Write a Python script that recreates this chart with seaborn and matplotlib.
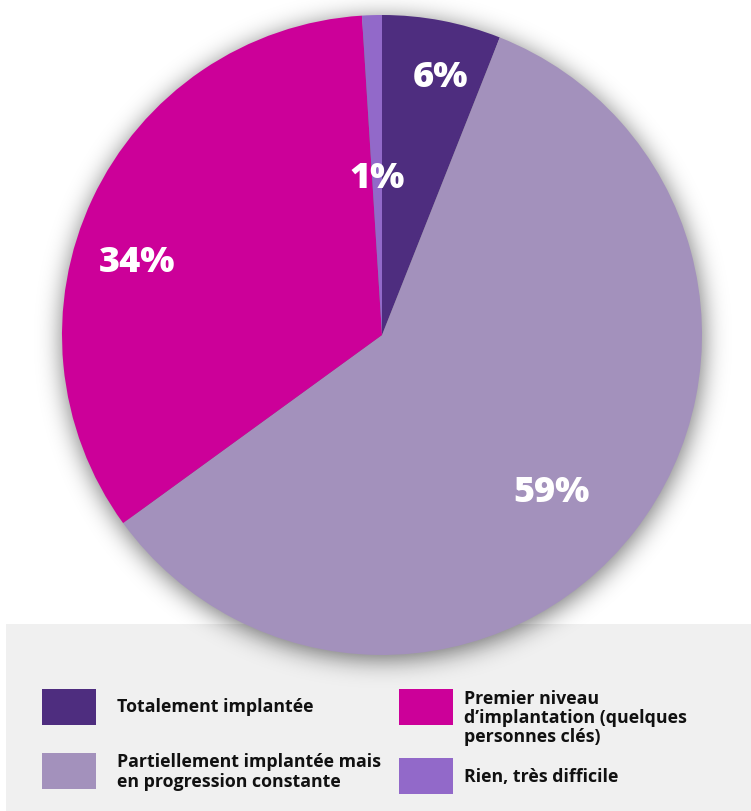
import math
import numpy as np
import matplotlib
matplotlib.use("Agg")
import matplotlib.pyplot as plt
from matplotlib.patches import Rectangle
import seaborn as sns

# Survey shares (percent)
categories = [
    "Totalement implantée",
    "Partiellement implantée mais\nen progression constante",
    "Premier niveau\nd’implantation (quelques\npersonnes clés)",
    "Rien, très difficile",
]
shares = [6, 59, 34, 1]
colors = ["#4e2d7f", "#a391bc", "#cc0099", "#9269c9"]

sns.set_theme(style="white")
plt.rcParams["font.family"] = ["Open Sans", "DejaVu Sans"]

W, H = 751, 812
fig = plt.figure(figsize=(W / 100, H / 100), dpi=100)
fig.patch.set_facecolor("white")
ax = fig.add_axes([0, 0, 1, 1])
ax.set_axis_off()

cx, cy, R = 382, H - 336, 320

# Grey legend panel at the bottom
ax.add_patch(Rectangle((6, 0), W - 6, H - 625, facecolor="#f0f0f0",
                       edgecolor="none", zorder=0))

# Soft drop shadow under the pie
xs = np.arange(W) + 0.5
ys = np.arange(H) + 0.5
XX, YY = np.meshgrid(xs, ys)
dist = np.hypot(XX - (cx + 1), YY - (cy - 4)) - R
sigma = 12.0
erfc = np.frompyfunc(lambda v: math.erfc(v), 1, 1)
shade = 0.5 * erfc(dist / (sigma * math.sqrt(2))).astype(float)
rgba = np.zeros((H, W, 4))
rgba[..., 3] = 0.55 * shade
ax.imshow(rgba, extent=(0, W, 0, H), origin="lower", zorder=1,
          interpolation="bilinear")

wedges, _ = ax.pie(
    shares, colors=colors, startangle=90, counterclock=False,
    center=(cx, cy), radius=R, frame=False,
    wedgeprops=dict(linewidth=0, zorder=2),
)
for w in wedges:
    w.set_zorder(2)

# Percentage labels inside the slices
label_r = [0.826, 0.721, 0.80, 0.49]
label_shift = [-1.9, -5.1, 8.6, 0.0]
for w, val, rf, sh in zip(wedges, shares, label_r, label_shift):
    mid = math.radians((w.theta1 + w.theta2) / 2 + sh)
    ax.text(cx + rf * R * math.cos(mid), cy + rf * R * math.sin(mid),
            f"{val}%", color="white", fontsize=26, fontweight="heavy",
            ha="center", va="center", zorder=3)

ax.set_xlim(0, W)
ax.set_ylim(0, H)
ax.set_aspect("auto")

# Legend: two columns of swatches with labels
sw = [(42, 690), (42, 754), (399, 690), (399, 759)]
tx = [(117, 707), (117, 772), (464, 718), (464, 777)]
for (sx, sy), (lx, ly), lab, col in zip(sw, tx, categories, colors):
    ax.add_patch(Rectangle((sx, H - sy - 36), 54, 36, facecolor=col,
                           edgecolor="none", zorder=3))
    ax.text(lx, H - ly, lab, fontsize=12.8, fontweight="bold", color="#111111",
            ha="left", va="center", linespacing=1.1, zorder=3)

fig.savefig("out.png", dpi=100)
